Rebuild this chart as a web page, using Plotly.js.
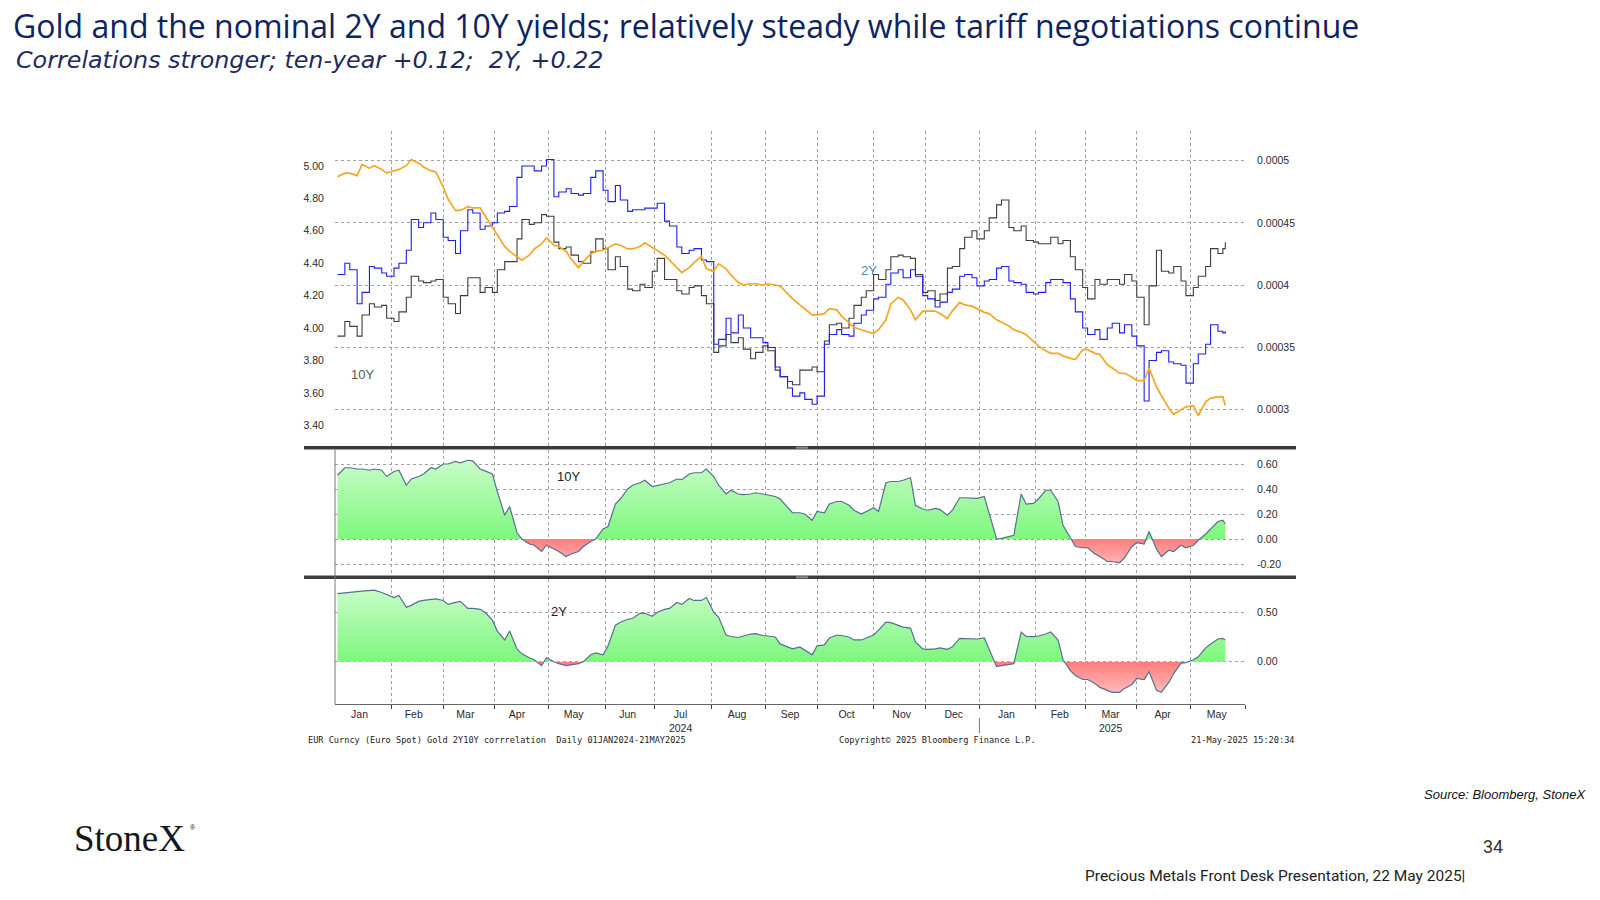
<!DOCTYPE html>
<html>
<head>
<meta charset="utf-8">
<script src="https://cdn.plot.ly/plotly-3.0.1.min.js"></script>
<style>
  html, body { margin: 0; padding: 0; background: #ffffff; }
  #chart { width: 1600px; height: 900px; }
</style>
</head>
<body>
<div id="chart"></div>
<script>
// ---------- DATA ----------
const dates = [
'2024-01-02','2024-01-05','2024-01-09','2024-01-12','2024-01-16','2024-01-19','2024-01-23','2024-01-26','2024-01-30','2024-02-02',
'2024-02-06','2024-02-09','2024-02-13','2024-02-16','2024-02-20','2024-02-23','2024-02-27','2024-03-01','2024-03-05','2024-03-08',
'2024-03-12','2024-03-15','2024-03-19','2024-03-22','2024-03-26','2024-03-29','2024-04-02','2024-04-05','2024-04-09','2024-04-12',
'2024-04-16','2024-04-19','2024-04-23','2024-04-26','2024-04-30','2024-05-03','2024-05-07','2024-05-10','2024-05-14','2024-05-17',
'2024-05-21','2024-05-24','2024-05-28','2024-05-31','2024-06-04','2024-06-07','2024-06-11','2024-06-14','2024-06-18','2024-06-21',
'2024-06-25','2024-06-28','2024-07-02','2024-07-05','2024-07-09','2024-07-12','2024-07-16','2024-07-19','2024-07-23','2024-07-26',
'2024-07-30','2024-08-02','2024-08-06','2024-08-09','2024-08-13','2024-08-16','2024-08-20','2024-08-23','2024-08-27','2024-08-30',
'2024-09-03','2024-09-06','2024-09-10','2024-09-13','2024-09-17','2024-09-20','2024-09-24','2024-09-27','2024-10-01','2024-10-04',
'2024-10-08','2024-10-11','2024-10-15','2024-10-18','2024-10-22','2024-10-25','2024-10-29','2024-11-01','2024-11-05','2024-11-08',
'2024-11-12','2024-11-15','2024-11-19','2024-11-22','2024-11-26','2024-11-29','2024-12-03','2024-12-06','2024-12-10','2024-12-13',
'2024-12-17','2024-12-20','2024-12-24','2024-12-27','2024-12-31','2025-01-03','2025-01-07','2025-01-10','2025-01-14','2025-01-17',
'2025-01-21','2025-01-24','2025-01-28','2025-01-31','2025-02-04','2025-02-07','2025-02-11','2025-02-14','2025-02-18','2025-02-21',
'2025-02-25','2025-02-28','2025-03-04','2025-03-07','2025-03-11','2025-03-14','2025-03-18','2025-03-21','2025-03-25','2025-03-28',
'2025-04-01','2025-04-04','2025-04-08','2025-04-11','2025-04-15','2025-04-18','2025-04-22','2025-04-25','2025-04-29','2025-05-02',
'2025-05-06','2025-05-09','2025-05-13','2025-05-16','2025-05-20','2025-05-21'];

// US 2Y yield (blue, left axis)
const twoY = [
4.33,4.40,4.36,4.15,4.22,4.38,4.37,4.34,4.32,4.37,
4.40,4.48,4.67,4.62,4.65,4.71,4.67,4.56,4.54,4.46,
4.60,4.73,4.71,4.61,4.63,4.65,4.71,4.72,4.75,4.93,
5.00,5.00,4.97,5.00,5.04,4.81,4.84,4.86,4.83,4.82,
4.83,4.93,4.97,4.85,4.78,4.88,4.79,4.72,4.73,4.73,
4.74,4.74,4.77,4.66,4.63,4.50,4.46,4.48,4.49,4.42,
4.41,3.90,3.93,4.06,3.97,4.08,4.00,3.94,3.94,3.91,
3.88,3.76,3.70,3.63,3.58,3.60,3.56,3.53,3.58,3.90,
3.96,3.99,3.96,3.95,4.03,4.08,4.11,4.18,4.19,4.27,
4.34,4.36,4.31,4.36,4.32,4.20,4.18,4.13,4.16,4.22,
4.24,4.32,4.33,4.31,4.26,4.29,4.30,4.37,4.38,4.29,
4.28,4.27,4.22,4.21,4.22,4.28,4.30,4.30,4.28,4.18,
4.10,4.00,3.96,3.99,3.93,4.00,4.03,3.97,4.02,3.95,
3.89,3.55,3.80,3.85,3.86,3.79,3.78,3.77,3.66,3.78,
3.84,3.90,4.02,3.98,3.97,3.98];

// US 10Y yield (dark grey, left axis)
const tenY = [
3.95,4.04,4.01,3.95,4.08,4.15,4.13,4.14,4.06,4.04,
4.10,4.19,4.32,4.29,4.28,4.29,4.30,4.19,4.15,4.09,
4.20,4.31,4.31,4.22,4.25,4.22,4.36,4.41,4.41,4.55,
4.67,4.64,4.65,4.70,4.69,4.53,4.49,4.50,4.45,4.41,
4.40,4.47,4.55,4.49,4.36,4.44,4.38,4.24,4.23,4.27,
4.25,4.35,4.43,4.30,4.30,4.23,4.21,4.25,4.26,4.20,
4.15,3.85,3.89,3.96,3.91,3.94,3.87,3.81,3.85,3.89,
3.86,3.74,3.70,3.67,3.65,3.74,3.74,3.76,3.73,3.92,
4.02,4.03,4.00,4.06,4.14,4.19,4.23,4.33,4.30,4.36,
4.44,4.45,4.44,4.43,4.33,4.22,4.23,4.17,4.21,4.37,
4.38,4.49,4.56,4.60,4.55,4.60,4.68,4.76,4.79,4.62,
4.60,4.63,4.54,4.53,4.52,4.52,4.56,4.52,4.54,4.44,
4.36,4.25,4.18,4.30,4.27,4.30,4.30,4.27,4.33,4.29,
4.19,4.02,4.26,4.48,4.35,4.34,4.38,4.29,4.20,4.25,
4.32,4.38,4.49,4.46,4.49,4.53];

// Inverted gold price (orange, right axis)
const goldInv = [
0.000487,0.000490,0.000490,0.000488,0.000497,0.000494,0.000496,0.000493,0.000490,0.000492,
0.000493,0.000496,0.000501,0.000498,0.000495,0.000492,0.000491,0.000479,0.000469,0.000460,
0.000460,0.000463,0.000462,0.000462,0.000456,0.000446,0.000440,0.000431,0.000427,0.000423,
0.000420,0.000424,0.000429,0.000433,0.000438,0.000432,0.000431,0.000427,0.000421,0.000414,
0.000419,0.000425,0.000427,0.000428,0.000430,0.000433,0.000432,0.000429,0.000429,0.000431,
0.000434,0.000430,0.000428,0.000424,0.000420,0.000414,0.000410,0.000414,0.000418,0.000423,
0.000413,0.000411,0.000417,0.000413,0.000408,0.000402,0.000400,0.000401,0.000401,0.000400,
0.000401,0.000400,0.000399,0.000393,0.000389,0.000384,0.000381,0.000376,0.000376,0.000377,
0.000381,0.000380,0.000375,0.000370,0.000366,0.000364,0.000363,0.000361,0.000364,0.000372,
0.000385,0.000390,0.000388,0.000380,0.000372,0.000379,0.000379,0.000379,0.000377,0.000373,
0.000379,0.000386,0.000384,0.000383,0.000381,0.000378,0.000377,0.000372,0.000370,0.000367,
0.000364,0.000362,0.000360,0.000355,0.000351,0.000347,0.000345,0.000345,0.000343,0.000341,
0.000340,0.000348,0.000348,0.000345,0.000344,0.000336,0.000333,0.000329,0.000329,0.000326,
0.000323,0.000323,0.000333,0.000318,0.000311,0.000301,0.000296,0.000300,0.000302,0.000303,
0.000295,0.000306,0.000309,0.000310,0.000310,0.000303];

// Gold / 10Y correlation (middle panel)
const corr10 = [
0.51,0.57,0.57,0.56,0.56,0.55,0.56,0.55,0.50,0.54,
0.55,0.43,0.48,0.50,0.52,0.57,0.56,0.60,0.60,0.62,
0.61,0.63,0.625,0.56,0.545,0.52,0.38,0.19,0.26,0.05,
0.00,-0.04,-0.05,-0.10,-0.05,-0.08,-0.10,-0.14,-0.12,-0.10,
-0.06,-0.02,0.00,0.08,0.10,0.28,0.32,0.40,0.43,0.45,
0.47,0.42,0.43,0.445,0.45,0.48,0.475,0.52,0.53,0.53,
0.56,0.50,0.43,0.36,0.39,0.36,0.355,0.36,0.37,0.36,
0.35,0.34,0.32,0.25,0.21,0.21,0.20,0.15,0.22,0.21,
0.28,0.30,0.30,0.27,0.23,0.20,0.22,0.25,0.22,0.45,
0.46,0.46,0.47,0.49,0.27,0.24,0.23,0.245,0.235,0.19,
0.23,0.33,0.33,0.325,0.325,0.34,0.21,0.00,0.005,0.02,
0.03,0.36,0.28,0.285,0.32,0.39,0.39,0.30,0.11,0.01,
-0.06,-0.07,-0.07,-0.12,-0.14,-0.18,-0.18,-0.19,-0.15,-0.06,
-0.03,-0.04,0.06,-0.08,-0.14,-0.09,-0.10,-0.05,-0.07,-0.05,
-0.01,0.04,0.08,0.14,0.15,0.12];

// Gold / 2Y correlation (bottom panel)
const corr2 = [
0.69,0.70,0.705,0.71,0.715,0.72,0.725,0.70,0.68,0.65,
0.67,0.55,0.57,0.61,0.62,0.625,0.635,0.62,0.58,0.60,
0.61,0.54,0.54,0.53,0.50,0.42,0.31,0.22,0.31,0.13,
0.08,0.04,0.02,-0.04,0.04,0.00,-0.02,-0.04,-0.03,-0.02,
0.00,0.07,0.09,0.07,0.16,0.37,0.40,0.43,0.44,0.49,
0.49,0.46,0.50,0.53,0.54,0.60,0.58,0.64,0.62,0.62,
0.65,0.50,0.45,0.27,0.255,0.245,0.26,0.28,0.285,0.265,
0.26,0.25,0.18,0.15,0.13,0.15,0.12,0.07,0.16,0.17,
0.24,0.27,0.265,0.25,0.22,0.22,0.24,0.27,0.32,0.40,
0.395,0.37,0.35,0.34,0.20,0.13,0.125,0.13,0.14,0.125,
0.15,0.236,0.236,0.233,0.23,0.24,0.12,-0.05,-0.04,-0.03,
-0.02,0.30,0.255,0.253,0.26,0.28,0.30,0.22,0.02,-0.09,
-0.14,-0.18,-0.18,-0.22,-0.26,-0.29,-0.31,-0.31,-0.27,-0.23,
-0.17,-0.18,-0.10,-0.29,-0.31,-0.21,-0.12,-0.015,-0.01,0.02,
0.05,0.14,0.18,0.23,0.235,0.22];

// Axis ticks
const monthStarts = ['2024-02-01','2024-03-01','2024-04-01','2024-05-01','2024-06-03','2024-07-01','2024-08-01',
  '2024-09-02','2024-10-01','2024-11-01','2024-12-02','2025-01-01','2025-02-03','2025-03-03','2025-04-01','2025-05-01','2025-06-02'];
const monthMid = ['2024-01-15','2024-02-14','2024-03-14','2024-04-12','2024-05-15','2024-06-14','2024-07-15 12:00',
  '2024-08-15 12:00','2024-09-16','2024-10-17','2024-11-18 10:00','2024-12-17 14:00','2025-01-16','2025-02-14 16:00',
  '2025-03-17 08:00','2025-04-15 12:00','2025-05-15 12:00'];
const monthLabels = ['Jan','Feb','Mar','Apr','May','Jun','Jul<br>2024','Aug','Sep','Oct','Nov','Dec',
  'Jan','Feb','Mar<br>2025','Apr','May'];
const yieldTicks = [3.4,3.6,3.8,4.0,4.2,4.4,4.6,4.8,5.0];
const yieldLabels = ['3.40','3.60','3.80','4.00','4.20','4.40','4.60','4.80','5.00'];
const goldTicks = [0.0003,0.00035,0.0004,0.00045,0.0005];
const goldLabels = ['0.0003','0.00035','0.0004','0.00045','0.0005'];
const c10Ticks = [-0.2,0,0.2,0.4,0.6];
const c10Labels = ['-0.20','0.00','0.20','0.40','0.60'];
const c2Ticks = [0,0.5];
const c2Labels = ['0.00','0.50'];

// ---------- LAYOUT HELPERS ----------
const W = 1600, H = 900;
const px = v => v / W;           // pixel -> paper x
const py = v => 1 - v / H;       // pixel -> paper y
const TICKFONT = {family: 'Liberation Sans, Arial, sans-serif', size: 10.5, color: '#2a2a2a'};
const GRID = '#a0a0a0';

const xRange = ['2024-01-01', '2025-06-02'];
function xAxis(anchor, showLabels) {
  return {
    type: 'date', range: xRange, rangebreaks: [{bounds: ['sat', 'mon']}],
    domain: [px(335), px(1245)], anchor: anchor,
    tickmode: 'array', tickvals: monthMid, ticktext: monthLabels,
    showticklabels: showLabels, ticks: '', showgrid: false, zeroline: false,
    showline: showLabels, linecolor: '#666', linewidth: 1,
    tickfont: TICKFONT,
    minor: {tickmode: 'array', tickvals: monthStarts, showgrid: true, gridcolor: GRID,
            griddash: 'dot', gridwidth: 1,
            ticks: showLabels ? 'outside' : '', ticklen: 4, tickcolor: '#444', tickwidth: 1},
    fixedrange: true
  };
}

const fillCorr = (lo, hi) => {
  const z = (0 - lo) / (hi - lo);
  return {type: 'vertical', start: lo, stop: hi,
          colorscale: [[0, '#ffd2d2'], [z, '#ff7c7c'], [z, '#7df77d'], [1, '#d2fdd2']]};
};

const y3r = [-0.296, 0.716];
const y4r = [-0.431, 0.837];

const traces = [
  {x: dates, y: tenY, xaxis: 'x', yaxis: 'y', type: 'scatter', mode: 'lines',
   line: {color: '#3d3d3d', width: 1.1, shape: 'hv'}, hoverinfo: 'skip'},
  {x: dates, y: twoY, xaxis: 'x', yaxis: 'y', type: 'scatter', mode: 'lines',
   line: {color: '#1e1ef0', width: 1.1, shape: 'hv'}, hoverinfo: 'skip'},
  {x: dates, y: goldInv, xaxis: 'x', yaxis: 'y2', type: 'scatter', mode: 'lines',
   line: {color: '#f5a623', width: 1.7}, hoverinfo: 'skip'},
  {x: dates, y: corr10, xaxis: 'x2', yaxis: 'y3', type: 'scatter', mode: 'lines',
   fill: 'tozeroy', fillgradient: fillCorr(y3r[0], y3r[1]),
   line: {color: '#55708f', width: 1.2}, hoverinfo: 'skip'},
  {x: dates, y: corr2, xaxis: 'x3', yaxis: 'y4', type: 'scatter', mode: 'lines',
   fill: 'tozeroy', fillgradient: fillCorr(y4r[0], y4r[1]),
   line: {color: '#55708f', width: 1.2}, hoverinfo: 'skip'}
];

const rightAxis = (extra) => Object.assign({
  side: 'right', showgrid: true, gridcolor: GRID, griddash: 'dot', gridwidth: 1,
  zeroline: false, tickmode: 'array', ticks: 'outside', ticklen: 9,
  tickcolor: 'rgba(0,0,0,0)', tickfont: TICKFONT, fixedrange: true
}, extra);

const ann = (x, y, text, font, xanchor, extra) => Object.assign({
  x: px(x), y: py(y), xref: 'paper', yref: 'paper', text: text, showarrow: false,
  xanchor: xanchor || 'left', yanchor: 'middle', font: font
}, extra || {});

const MONO = {family: 'DejaVu Sans Mono, Liberation Mono, monospace', size: 8.6, color: '#222'};

const layout = {
  width: W, height: H,
  margin: {l: 0, r: 0, t: 0, b: 0, pad: 0},
  paper_bgcolor: '#ffffff', plot_bgcolor: '#ffffff',
  showlegend: false,
  title: {text: 'Gold and the nominal 2Y and 10Y yields; relatively steady while tariff negotiations continue',
          x: px(13), xanchor: 'left', xref: 'paper', y: py(27), yanchor: 'middle', yref: 'paper',
          font: {family: 'Open Sans, Noto Sans, sans-serif', size: 32, color: '#0d2463'}},
  xaxis: xAxis('y', false),
  xaxis2: xAxis('y3', false),
  xaxis3: xAxis('y4', true),
  yaxis: {domain: [py(446), py(131)], range: [3.272, 5.216], anchor: 'x', side: 'left',
          tickmode: 'array', tickvals: yieldTicks, ticktext: yieldLabels,
          showgrid: false, zeroline: false, ticks: 'outside', ticklen: 8, tickcolor: 'rgba(0,0,0,0)',
          tickfont: TICKFONT, fixedrange: true},
  yaxis2: rightAxis({overlaying: 'y', anchor: 'x', range: [0.00027047, 0.0005239],
          tickvals: goldTicks, ticktext: goldLabels}),
  yaxis3: rightAxis({domain: [py(576), py(449.5)], anchor: 'x2', range: y3r,
          tickvals: c10Ticks, ticktext: c10Labels}),
  yaxis4: rightAxis({domain: [py(704.3), py(579)], anchor: 'x3', range: y4r,
          tickvals: c2Ticks, ticktext: c2Labels}),
  shapes: [
    {type: 'line', xref: 'paper', yref: 'paper', x0: px(304), x1: px(1296), y0: py(447.7), y1: py(447.7),
     line: {color: '#3c3c3c', width: 3.5}},
    {type: 'line', xref: 'paper', yref: 'paper', x0: px(304), x1: px(1296), y0: py(577.3), y1: py(577.3),
     line: {color: '#3c3c3c', width: 3.5}},
    {type: 'line', xref: 'paper', yref: 'paper', x0: px(796), x1: px(808), y0: py(447.7), y1: py(447.7),
     line: {color: '#8a8a8a', width: 2}},
    {type: 'line', xref: 'paper', yref: 'paper', x0: px(796), x1: px(808), y0: py(577.3), y1: py(577.3),
     line: {color: '#8a8a8a', width: 2}},
    {type: 'line', xref: 'paper', yref: 'paper', x0: px(335), x1: px(335), y0: py(449.5), y1: py(704.3),
     line: {color: '#777', width: 1}},
    {type: 'line', xref: 'x3', yref: 'paper', x0: '2025-01-01', x1: '2025-01-01', y0: py(718), y1: py(733),
     line: {color: '#777', width: 1}}
  ],
  annotations: [
    ann(14, 60, 'Correlations stronger; ten-year +0.12;  2Y, +0.22',
        {family: 'DejaVu Sans, Open Sans, sans-serif', size: 23.8, color: '#1f2a5c', weight: 300, style: 'italic'}),
    // panel labels
    {x: '2024-01-16', y: 3.713, xref: 'x', yref: 'y', text: '10Y', showarrow: false,
     font: {family: 'Liberation Sans, Arial, sans-serif', size: 13, color: '#555'}},
    {x: '2024-10-30', y: 4.358, xref: 'x', yref: 'y', text: '2Y', showarrow: false,
     font: {family: 'Liberation Sans, Arial, sans-serif', size: 13, color: '#4f86c6'}},
    {x: '2024-05-13', y: 0.50, xref: 'x2', yref: 'y3', text: '10Y', showarrow: false,
     font: {family: 'Liberation Sans, Arial, sans-serif', size: 13, color: '#222'}},
    {x: '2024-05-07', y: 0.506, xref: 'x3', yref: 'y4', text: '2Y', showarrow: false,
     font: {family: 'Liberation Sans, Arial, sans-serif', size: 13, color: '#222'}},
    // Bloomberg footer
    ann(306, 740, 'EUR Curncy (Euro Spot) Gold 2Y10Y corrrelation  Daily 01JAN2024-21MAY2025', MONO),
    ann(837, 740, 'Copyright\u00a9 2025 Bloomberg Finance L.P.', MONO),
    ann(1296, 740, '21-May-2025 15:20:34', MONO, 'right'),
    // slide footer
    ann(1588, 794, 'Source: Bloomberg, StoneX',
        {family: 'Liberation Sans, Arial, sans-serif', size: 13, color: '#111', style: 'italic'}, 'right'),
    ann(72, 838, 'StoneX',
        {family: 'Liberation Serif, DejaVu Serif, serif', size: 37, color: '#141820'}),
    ann(188, 827, '\u00ae',
        {family: 'Liberation Sans, Arial, sans-serif', size: 7, color: '#141820'}),
    ann(1493, 846, '34', {family: 'Roboto, Liberation Sans, sans-serif', size: 18, color: '#333'}, 'center'),
    ann(1467, 876, 'Precious Metals Front Desk Presentation, 22 May 2025|',
        {family: 'Roboto, Liberation Sans, sans-serif', size: 15.5, color: '#222'}, 'right')
  ]
};

Plotly.newPlot('chart', traces, layout, {staticPlot: true, displayModeBar: false});
</script>
</body>
</html>
